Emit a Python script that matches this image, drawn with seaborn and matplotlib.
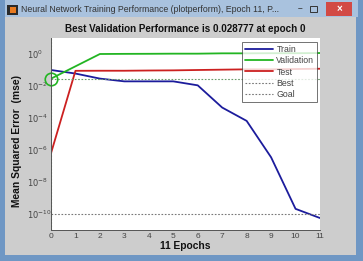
import math
import matplotlib
matplotlib.use("Agg")
import matplotlib.pyplot as plt
import seaborn as sns
import pandas as pd
from matplotlib.patches import Rectangle
from matplotlib.lines import Line2D

# values
epochs = list(range(12))
train_mse = [1.0e-1, 6.0e-2, 2.9e-2, 1.95e-2, 1.95e-2, 1.95e-2, 1.1e-2,
             4.5e-4, 6.6e-5, 3.5e-7, 2.1e-10, 5.6e-11]
val_mse = [2.8777e-2, 1.7e-1, 1.0, 1.02, 1.03, 1.05, 1.05, 1.1, 1.1, 1.12,
           1.12, 1.15]
test_mse = [6.3e-7, 8.9e-2, 9.0e-2, 9.0e-2, 9.3e-2, 9.5e-2, 1.0e-1, 1.05e-1,
            1.1e-1, 1.1e-1, 1.15e-1, 1.2e-1]
best_perf = 0.028777
best_epoch = 0
goal = 1e-10
series_names = ["Train", "Validation", "Test"]
colors = {"Train": "#1c1c9c", "Validation": "#22b522", "Test": "#cc2020"}
yticks = [1e0, 1e-2, 1e-4, 1e-6, 1e-8, 1e-10]

df = pd.DataFrame({
    "epoch": epochs * 3,
    "mse": train_mse + val_mse + test_mse,
    "set": [n for n in series_names for _ in epochs],
})

sns.set_style("white")
plt.rcParams["font.family"] = ["Liberation Sans", "DejaVu Sans"]

W, H = 363, 261
fig = plt.figure(figsize=(W / 100, H / 100), dpi=100)
fig.patch.set_facecolor("#6f97c4")

def fr(x, y, w, h, **kw):
    # rectangle in pixel units of the screenshot (top-left origin)
    fig.patches.append(Rectangle((x / W, 1 - (y + h) / H), w / W, h / H,
                                 transform=fig.transFigure, zorder=-5, **kw))

# window chrome
fr(5, 0, 353, 17, facecolor="#a9c2de", edgecolor="none")
fr(5, 17, 351, 238, facecolor="#cdcdcd", edgecolor="none")
fr(7, 5, 11, 10, facecolor="#2a2a2a", edgecolor="none")
fr(10, 7, 6, 6, facecolor="#e87a20", edgecolor="none")
fr(326, 2, 26, 14, facecolor="#d24a45", edgecolor="none")
fr(310, 6, 7, 6, facecolor="none", edgecolor="#333333", linewidth=0.7)
fig.text(339 / W, 1 - 9 / H, "\u00d7", color="white", fontsize=7,
         ha="center", va="center", fontweight="bold")
fig.text(300 / W, 1 - 9 / H, "\u2013", color="#333333", fontsize=6,
         ha="center", va="center", fontweight="bold")
fig.text(21 / W, 1 - 10 / H,
         "Neural Network Training Performance (plotperform), Epoch 11, P...",
         color="#333333", fontsize=6.3, ha="left", va="center")

ax = fig.add_axes([51 / W, 1 - 230 / H, 269 / W, 192 / H])
ax.set_facecolor("white")

sns.lineplot(data=df, x="epoch", y="mse", hue="set", hue_order=series_names,
             palette=colors, linewidth=1.3, ax=ax, legend=False)
ax.axhline(best_perf, color="#6a9a6a", linestyle=(0, (1.5, 1.5)), linewidth=0.8)
ax.axvline(best_epoch, color="#6a9a6a", linestyle=(0, (1.5, 1.5)), linewidth=0.8)
ax.axhline(goal, color="#777777", linestyle=(0, (1.5, 1.5)), linewidth=0.8)
ax.plot([best_epoch], [best_perf], "o", markersize=9, markerfacecolor="none",
        markeredgecolor="#22b522", markeredgewidth=1.2, clip_on=False)

ax.set_yscale("log")
ax.set_xlim(0, 11)
ax.set_ylim(1e-11, 1e1)
ax.set_xticks(epochs)
ax.set_yticks(yticks)
ax.set_yticklabels([f"$10^{{{int(round(math.log10(v)))}}}$" for v in yticks])
ax.yaxis.set_minor_locator(matplotlib.ticker.NullLocator())
ax.tick_params(direction="in", length=3, width=0.6, labelsize=6,
               colors="#444444", pad=2)
# matlab keeps the "10" of every label in one column
ax.tick_params(axis="y", pad=17.5)
for t in ax.get_yticklabels():
    t.set_horizontalalignment("left")
for side in ["top", "right"]:
    ax.spines[side].set_visible(False)
for side in ["left", "bottom"]:
    ax.spines[side].set_color("#555555")
    ax.spines[side].set_linewidth(0.7)

ax.set_title("Best Validation Performance is 0.028777 at epoch 0",
             fontsize=7.1, fontweight="bold", pad=4, color="#111111")
ax.set_xlabel("11 Epochs", fontsize=7.4, fontweight="bold", labelpad=1,
              color="#111111")
ax.set_ylabel("Mean Squared Error  (mse)", fontsize=7.4, fontweight="bold",
              color="#111111")
ax.yaxis.set_label_coords(-0.108, 0.464)

handles = [Line2D([], [], color=colors[n], linewidth=1.3) for n in series_names]
handles += [Line2D([], [], color="#777777", linestyle=(0, (1.5, 1.5)), linewidth=0.8),
            Line2D([], [], color="#777777", linestyle=(0, (1.5, 1.5)), linewidth=0.8)]
leg = ax.legend(handles, series_names + ["Best", "Goal"], loc="upper right",
                bbox_to_anchor=(0.989, 0.979), borderaxespad=0, fontsize=6.3,
                frameon=True, fancybox=False, edgecolor="#333333",
                handlelength=3.2, labelspacing=0.28, borderpad=0.3,
                handletextpad=0.4)
leg.get_frame().set_linewidth(0.6)
for t in leg.get_texts():
    t.set_color("#444444")

fig.savefig("out.png", dpi=100, facecolor=fig.get_facecolor())
